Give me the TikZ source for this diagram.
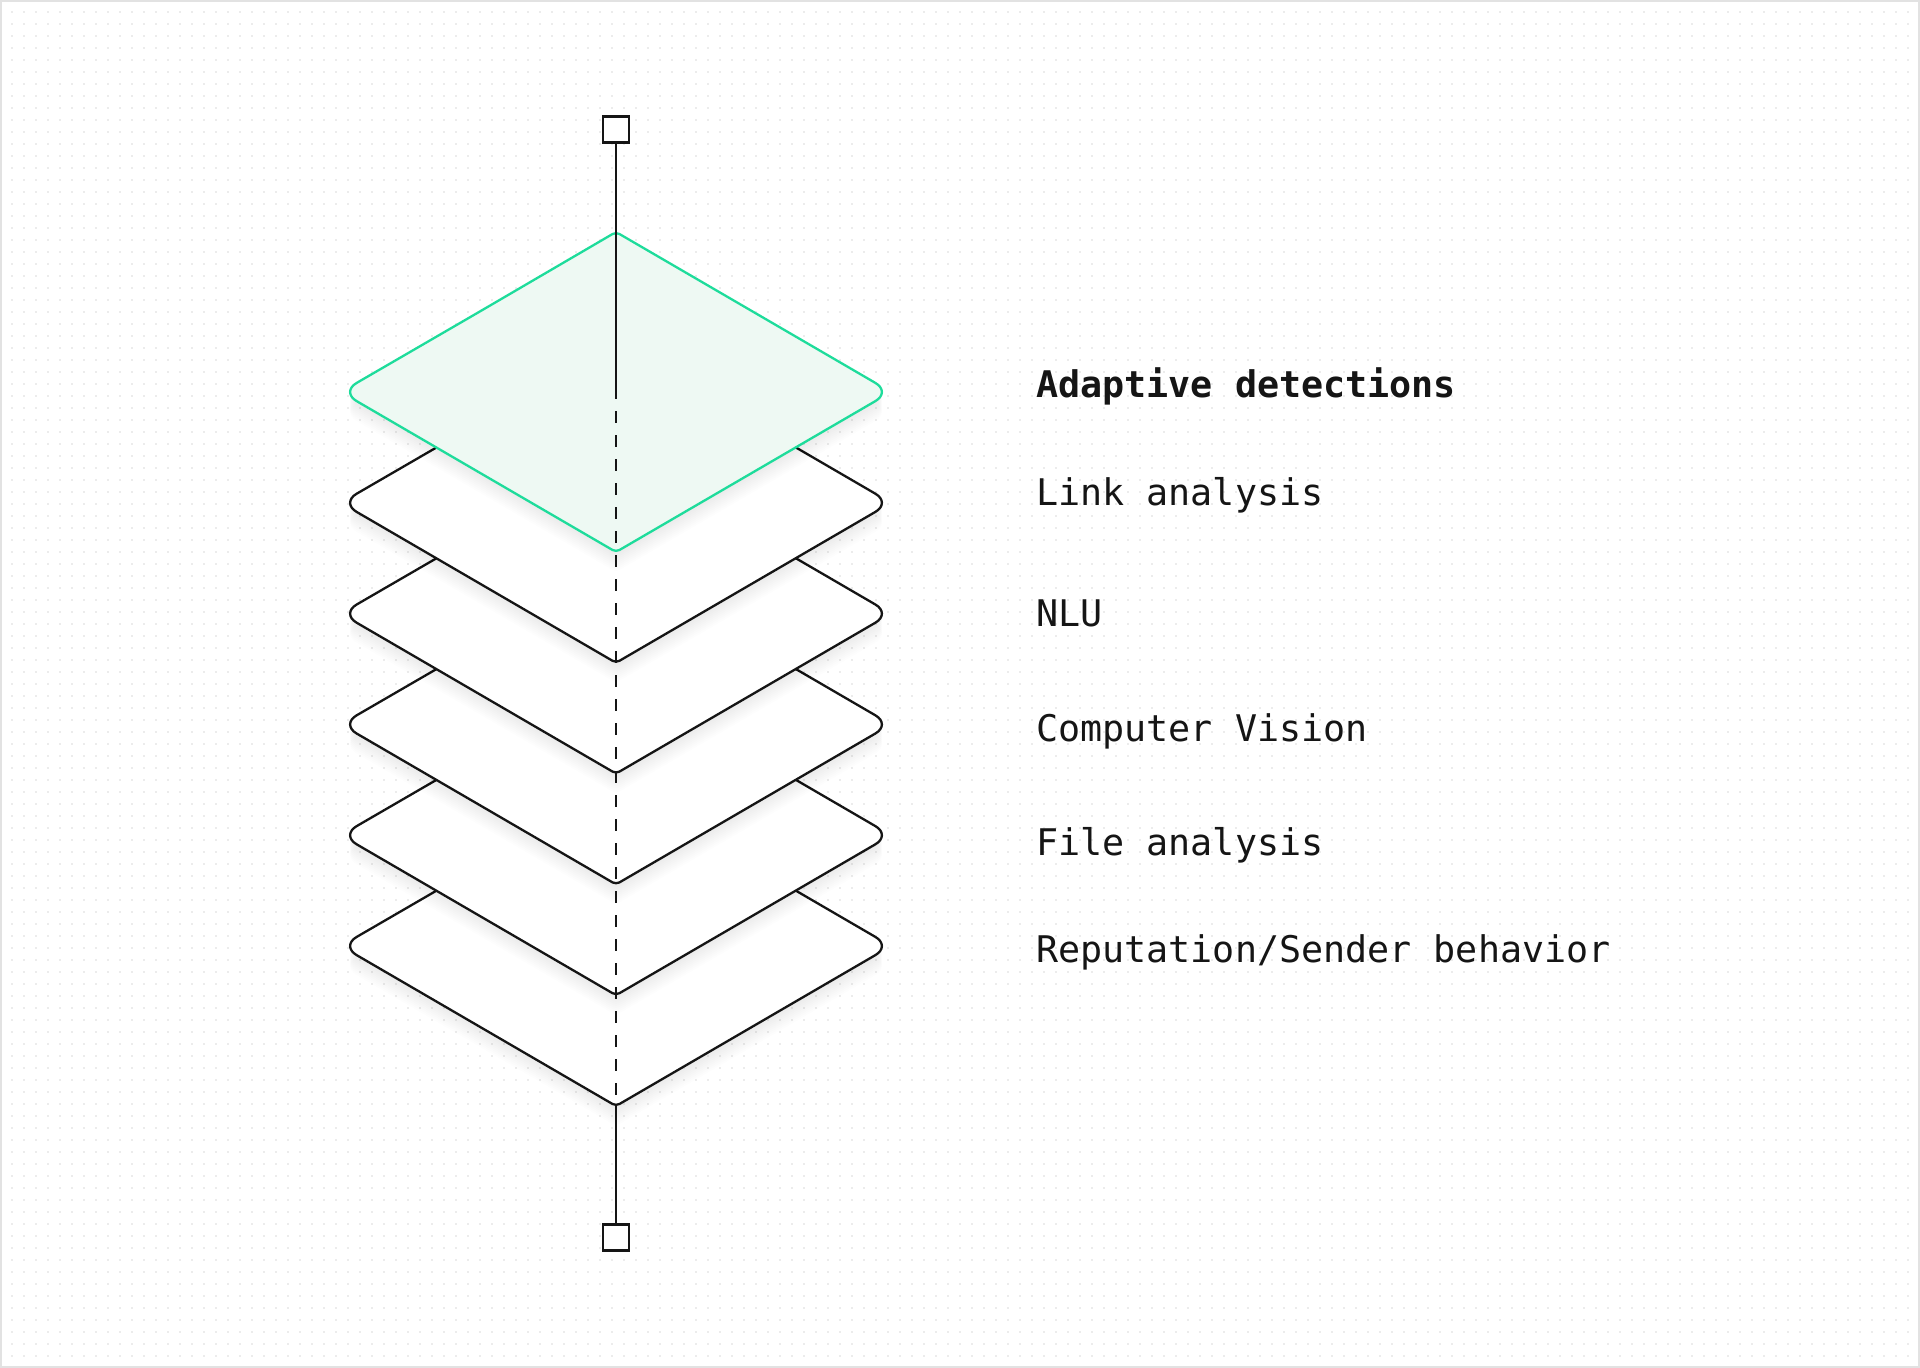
\documentclass[tikz,border=0pt]{standalone}
\usepackage{fontspec}
\newfontfamily\labfont{DejaVu Sans Mono}
\definecolor{ink}{HTML}{151515}
\definecolor{mint}{HTML}{1EDC9B}
\definecolor{mintfill}{HTML}{EEF9F3}
\definecolor{dotc}{HTML}{ECECEC}
\definecolor{framec}{HTML}{E2E2E2}
\tikzset{
  layer/.style={line width=2.3pt, line join=round},
  shade step/.style={fill=black, fill opacity=0.009, draw=none},
  sqbox/.style={draw=ink, line width=2.3pt, fill=white, minimum size=26pt, inner sep=0pt},
  lab/.style={anchor=base west, inner sep=0pt, text=ink, font=\labfont\fontsize{36.7}{44}\selectfont},
  axis/.style={draw=ink, line width=2.3pt}
}
% diamond outline centred at (616,#1)
\newcommand\dmpath[1]{(479,#1-80) [rounded corners=4pt] -- (616,#1-160) [rounded corners=18pt] -- (891,#1) [rounded corners=4pt] -- (616,#1+160) [rounded corners=18pt] -- (341,#1) -- cycle}
\begin{document}
\begin{tikzpicture}[x=1pt,y=-1pt]
\useasboundingbox (0,0) rectangle (1920,1368);
\fill[white] (0,0) rectangle (1920,1368);
\draw[framec, line width=2pt] (1,1) rectangle (1919,1367);
\foreach \j in {12,24,...,1356}
  \draw[dotc, line width=1.3pt, dash pattern=on 1.3pt off 10.7pt] (11.35,\j) -- (1912,\j);

% white layers, bottom first
\foreach \k in {5,4,3,2,1}{
  \pgfmathsetmacro\yc{392+110.8*\k}
  \coordinate (c\k) at (616,\yc);
  \foreach \s in {2,4,...,20}{
    \pgfmathsetmacro\ys{\yc+\s}
    \fill[shade step] \dmpath{\ys};
  }
  \draw[layer, fill=white, draw=ink] \dmpath{\yc};
}
\coordinate (bot) at (616,{392+110.8*5+160});
% green top layer
\coordinate (c0) at (616,392);
\foreach \s in {2,4,...,20}{
  \pgfmathsetmacro\ys{392+\s}
  \fill[shade step] \dmpath{\ys};
}
\draw[layer, fill=mintfill, draw=mint] \dmpath{392};

% axis
\node[sqbox] (sqt) at (616,129.5) {};
\node[sqbox] (sqb) at (616,1237.5) {};
\draw[axis] (sqt.south) -- (c0);
\draw[axis, dash pattern=on 12pt off 12pt, dash phase=5pt] (c0) -- (bot);
\draw[axis] (bot) -- (sqb.north);

% labels
\node[lab] (t0) at (1036,397) {\bfseries Adaptive detections};
\node[lab] (t1) at (1036,505) {Link analysis};
\node[lab] (t2) at (1036,626) {NLU};
\node[lab] (t3) at (1036,741) {Computer Vision};
\node[lab] (t4) at (1036,855) {File analysis};
\node[lab] (t5) at (1036,962) {Reputation/Sender behavior};
\end{tikzpicture}
\end{document}
